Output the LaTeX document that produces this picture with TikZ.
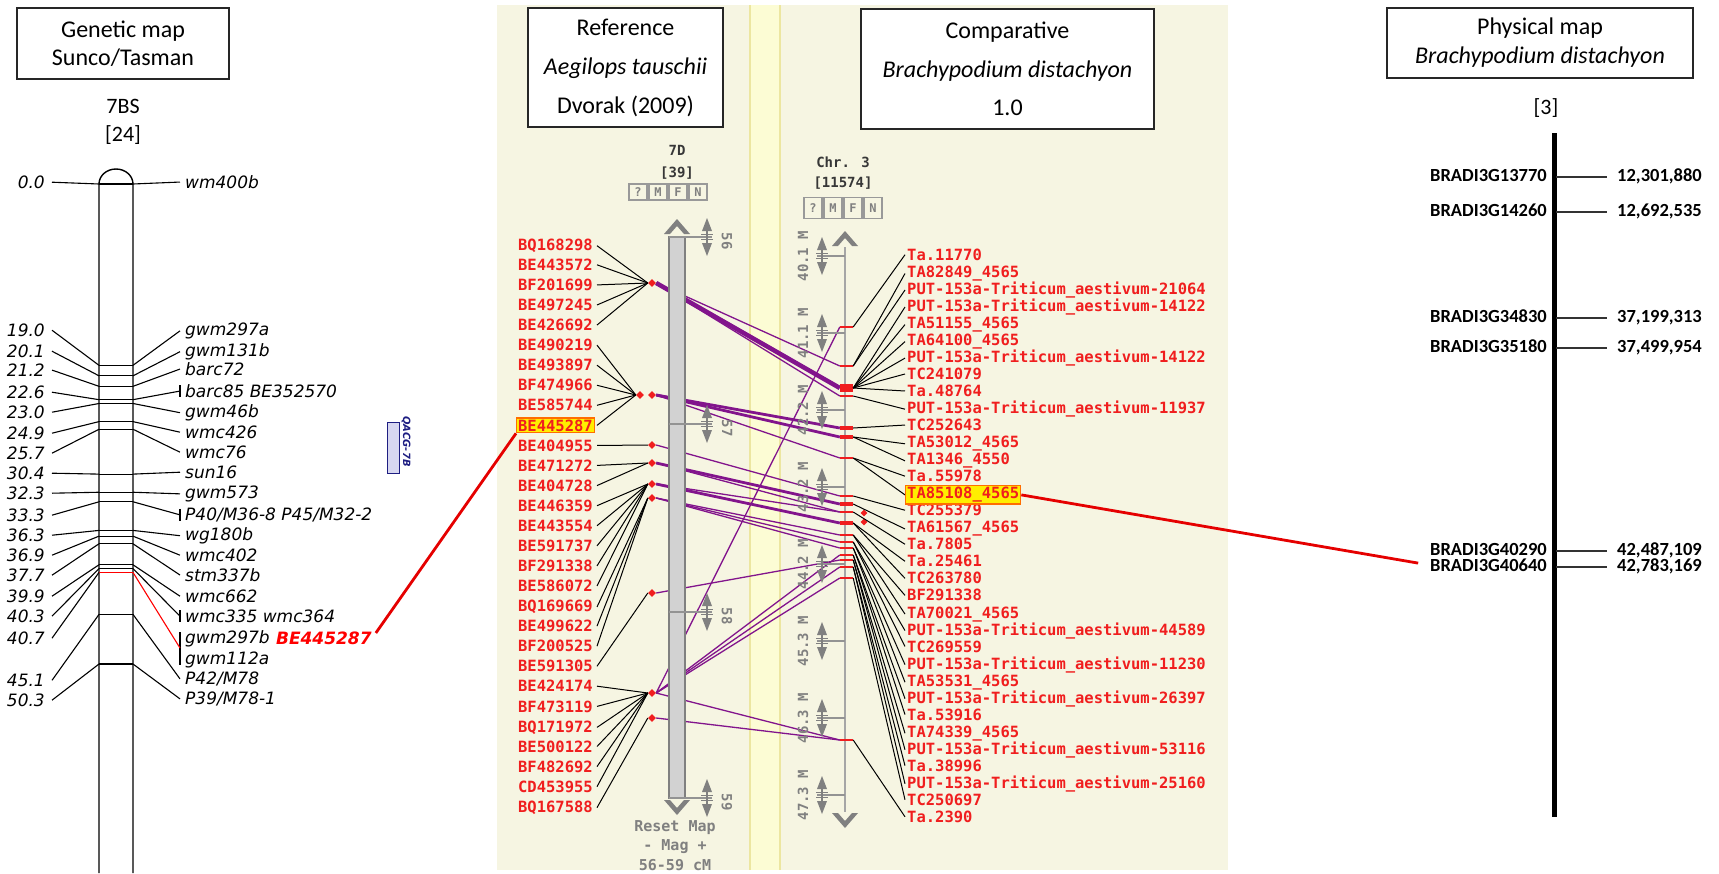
\documentclass[tikz,border=0pt]{standalone}
\usepackage{fontspec}
\setmainfont{Carlito}
\newfontfamily\mapfont{DejaVu Sans}
\newfontfamily\cmapfont{DejaVu Sans Mono}
\usepackage{xcolor}
\usetikzlibrary{positioning, shapes.geometric, calc}

\definecolor{cmapbg}{RGB}{246,245,226}
\definecolor{cmapband}{RGB}{252,252,212}
\definecolor{cmapbandedge}{RGB}{236,230,160}
\definecolor{cmapred}{RGB}{240,30,30}
\definecolor{cmapgray}{RGB}{128,128,128}
\definecolor{cmapdark}{RGB}{55,55,55}
\definecolor{cmapbar}{RGB}{210,210,210}
\definecolor{cmappurple}{RGB}{130,20,140}
\definecolor{hiyellow}{RGB}{255,238,0}
\definecolor{hiorange}{RGB}{255,110,0}
\definecolor{qtlblue}{RGB}{30,30,130}
\definecolor{qtlfill}{RGB}{215,215,240}

\pgfdeclarelayer{panel}
\pgfdeclarelayer{links}
\pgfsetlayers{panel,links,main}

\begin{document}
\begin{tikzpicture}[
    x=1pt, y=-1pt,
    header box/.style={draw=black!85, line width=1.2pt, fill=white, align=center, inner sep=0pt},
    gline/.style={black, line width=1.1pt},
    gmap label/.style={font=\mapfont\itshape\fontsize{17}{17}\selectfont, inner sep=0pt, yshift=-2pt},
    gmap red/.style={font=\mapfont\bfseries\itshape\fontsize{17}{17}\selectfont, text=red, inner sep=0pt},
    cmap label/.style={font=\cmapfont\bfseries\fontsize{15.5}{15.5}\selectfont, text=cmapred, inner ysep=1pt, yshift=-3pt},
    cmap gray/.style={font=\cmapfont\bfseries\fontsize{14}{14}\selectfont, text=cmapgray, inner sep=0pt},
    cmap title/.style={font=\cmapfont\bfseries\fontsize{14}{14}\selectfont, text=cmapdark, inner sep=0pt},
    button/.style={draw=cmapgray!80, line width=1.1pt, minimum width=18pt, inner sep=0pt,
        font=\cmapfont\bfseries\fontsize{12}{12}\selectfont, text=cmapgray},
    leader/.style={black, line width=1pt},
    feat/.style={diamond, fill=cmapred, inner sep=0pt, minimum size=8pt},
    cfeat/.style={rectangle, fill=cmapred, inner sep=0pt, minimum width=13pt},
    hilite/.style={fill=hiyellow, draw=hiorange, line width=1.3pt, inner sep=1.5pt},
    redlink/.style={red!90!black, line width=2.8pt},
    tickline/.style={cmapgray!85, line width=1.4pt},
    phys label/.style={font=\bfseries\fontsize{18.5}{18.5}\selectfont, inner sep=0pt, yshift=-2pt}
]

\tikzset{
    updown/.pic={
        \fill[cmapgray] (-5,-6) -- (5,-6) -- (0,-19) -- cycle;
        \fill[cmapgray] (-5,6) -- (5,6) -- (0,19) -- cycle;
        \draw[cmapgray, line width=1.1pt] (-6,-2.5) -- (6,-2.5) (-6,2.5) -- (6,2.5) (0,-6) -- (0,6);
    },
    chevup/.pic={
        \fill[cmapgray] (-13,8) -- (0,-7) -- (13,8) -- (7,8) -- (0,0) -- (-7,8) -- cycle;
    },
    chevdown/.pic={
        \fill[cmapgray] (-13,-8) -- (0,7) -- (13,-8) -- (7,-8) -- (0,0) -- (-7,-8) -- cycle;
    }
}

\useasboundingbox (0,0) rectangle (1719,873);

% --- 1. Genetic map Sunco/Tasman ---
\node[header box, minimum width=212pt, minimum height=71pt, font=\fontsize{24}{28}\selectfont]
    (gmapHead) at (123,43.5) {Genetic map\\Sunco/Tasman};
\node[font=\fontsize{22}{22}\selectfont] (chrName) at (123,106) {7BS};
\node[font=\fontsize{22}{22}\selectfont] (chrCount) at (123,135) {[24]};

\draw[gline, line width=1.4pt] (99,873) -- (99,184)
    arc[start angle=180, end angle=0, x radius=17pt, y radius=15pt] -- (133,873);

\foreach \cm in {0.0,19.0,20.1,21.2,22.6,23.0,24.9,25.7,30.4,32.3,33.3,36.3,36.9,37.7,39.9,40.3,45.1,50.3}{
    \draw[gline] (99,{184+9.543*\cm}) -- (133,{184+9.543*\cm});
}
\draw[red, line width=1.1pt] (99,572.4) -- (133,572.4);

% positions (left side)
\foreach \cm/\ly [count=\i] in {0.0/184, 19.0/332, 20.1/353, 21.2/372, 22.6/394, 23.0/414,
    24.9/435, 25.7/455, 30.4/475, 32.3/495, 33.3/517, 36.3/537, 36.9/557, 37.7/577,
    39.9/598, 40.3/618, 40.7/640, 45.1/682, 50.3/702}{
    \node[gmap label, anchor=mid east, inner xsep=7pt] (pos\i) at (52,\ly) {\cm};
    \coordinate (rl\i) at (99,{184+9.543*\cm});
    \draw[gline] (pos\i.east) -- (rl\i);
}

% loci (right side)
\foreach \cm/\ry/\txt [count=\i] in {0.0/184/wm400b, 19.0/331/gwm297a, 20.1/352/gwm131b,
    21.2/371/barc72, 22.6/393/barc85 BE352570, 23.0/413/gwm46b, 24.9/434/wmc426,
    25.7/454/wmc76, 30.4/474/sun16, 32.3/494/gwm573, 33.3/516/{P40/M36-8 P45/M32-2},
    36.3/536/wg180b, 36.9/557/wmc402, 37.7/577/stm337b, 39.9/598/wmc662,
    40.3/618/wmc335 wmc364, 45.1/680/{P42/M78}, 50.3/700/{P39/M78-1}}{
    \coordinate (rr\i) at (133,{184+9.543*\cm});
    \node[gmap label, anchor=mid west, inner xsep=5pt] (loc\i) at (180,\ry) {\txt};
    \draw[gline] (rr\i) -- (loc\i.west);
}
\foreach \i in {5,11,16}{
    \draw[gline] ($(loc\i.west)+(0,-6)$) -- ($(loc\i.west)+(0,6)$);
}

% shared locus 40.7
\node[gmap label, anchor=mid west] (gwmB) at (185,639) {gwm297b};
\node[gmap red, anchor=west, right=6pt of gwmB] (beL) {BE445287};
\node[gmap label, anchor=mid west] (gwmA) at (185,660) {gwm112a};
\coordinate (rrRed) at (133,572.4);
\coordinate (brk) at (180,648);
\draw[gline] (180,632) -- (180,665);
\draw[red, line width=1.1pt] (rrRed) -- (brk);

% QTL
\node[draw=qtlblue, fill=qtlfill, line width=1pt, minimum width=12pt, minimum height=51pt,
    inner sep=0pt] (qtl) at (393,447.5) {};
\node[font=\mapfont\bfseries\itshape\fontsize{10}{10}\selectfont, text=qtlblue, rotate=-90,
    anchor=south, inner sep=1pt] (qtlName) at ($(qtl.east)+(1,-6)$) {QACG-7B};

% --- 2. CMap panel ---
\begin{pgfonlayer}{panel}
    \fill[cmapbg] (497,5) rectangle (1228,870);
    \fill[cmapband] (750,5) rectangle (780,870);
    \draw[cmapbandedge, line width=1.2pt] (750,5) -- (750,870) (780,5) -- (780,870);
\end{pgfonlayer}

\node[header box, minimum width=195pt, minimum height=119pt, font=\fontsize{24}{39}\selectfont]
    (refHead) at (625.5,67.5) {Reference\\\textit{Aegilops tauschii}\\Dvorak (2009)};
\node[header box, minimum width=293pt, minimum height=120pt, font=\fontsize{24}{38.5}\selectfont]
    (cmpHead) at (1007.5,69) {Comparative\\\textit{Brachypodium distachyon}\\1.0};

% 7D map
\node[cmap title] (refChr) at (677,150) {7D};
\node[cmap title] (refCount) at (677,173) {[39]};
\foreach \b [count=\k] in {?,M,F,N}{
    \node[button, minimum height=16pt] (btnA\k) at ({618+20*\k},192) {\b};
}
\pic at (677,226) {chevup};
\pic at (677,808) {chevdown};
\draw[fill=cmapbar, draw=cmapgray, line width=2.5pt] (669,237) rectangle (685,798);
\foreach \y/\v in {237/56, 424/57, 612/58, 798/59}{
    \draw[tickline] (669,\y) -- (712,\y);
    \pic at (707,\y) {updown};
    \node[cmap gray, rotate=-90] (cM\v) at (727,{\y+4}) {\v};
}
\node[cmap gray, font=\cmapfont\bfseries\fontsize{15}{15}\selectfont] (reset) at (675,828) {Reset Map};
\node[cmap gray, font=\cmapfont\bfseries\fontsize{15}{15}\selectfont] (mag) at (675,847) {- Mag +};
\node[cmap gray, font=\cmapfont\bfseries\fontsize{15}{15}\selectfont] (range) at (675,865) {56-59 cM};

\foreach \y [count=\k] in {283,395,445,463,484,498,593,693,718}{
    \node[feat] (d\k) at (652,\y) {};
}
\node[feat] (d2b) at (640,395) {};

% Chr. 3 map
\node[cmap title] (cmpChr) at (843,162) {Chr. 3};
\node[cmap title] (cmpCount) at (843,183) {[11574]};
\foreach \b [count=\k] in {?,M,F,N}{
    \node[button, minimum height=21pt] (btnB\k) at ({793+20*\k},208) {\b};
}
\pic at (845,238) {chevup};
\pic at (845,821) {chevdown};
\draw[cmapgray!70, line width=1.5pt] (845,247) -- (845,812);
\foreach \v [count=\k from 0] in {40.1,41.1,42.2,43.2,44.2,45.3,46.3,47.3}{
    \draw[tickline] (817,{256+77*\k}) -- (845,{256+77*\k});
    \pic at (822,{256+77*\k}) {updown};
    \node[cmap gray, rotate=90] (Mb\k) at (803,{256+77*\k}) {\v\ M};
}

\foreach \y/\h [count=\k] in {327/2.5, 366/2.5, 388/8, 396/2.5, 428/3.5, 437/3.5, 458/2.5,
    496/2.5, 504/3.5, 512/2.5, 523/3.5, 535/2.5, 542/2.5, 548/2.5, 555/2.5, 560/2.5,
    567/2.5, 578/2.5, 740/2.5}{
    \node[cfeat, minimum height=\h] (c\k) at (846.5,\y) {};
}
\node[feat, minimum size=7pt] (dd1) at (864,513) {};
\node[feat, minimum size=7pt] (dd2) at (864,522) {};

% correspondences 7D -> Chr. 3
\begin{pgfonlayer}{links}
    \foreach \d/\c/\w in {1/2/1.3, 1/3/4.5, 1/4/1.3, 2/5/2.8, 2/6/2.8, 2/7/1.3, 3/8/1.3,
        4/9/2.8, 4/10/1.3, 5/11/2.8, 5/10/1.3, 6/12/1.3, 6/13/1.3, 6/14/1.3, 7/16/1.3,
        8/1/1.3, 8/15/1.3, 8/17/1.3, 8/18/1.3, 8/19/1.3, 9/19/1.3}{
        \draw[cmappurple, line width=\w] (d\d.east) -- (c\c.west);
    }
\end{pgfonlayer}

% 7D features
\foreach \name/\k [count=\i] in {BQ168298/1, BE443572/1, BF201699/1, BE497245/1, BE426692/1,
    BE490219/2b, BE493897/2b, BF474966/2b, BE585744/2b, BE445287/2b, BE404955/3,
    BE471272/4, BE404728/4, BE446359/5, BE443554/5, BE591737/5, BF291338/5, BE586072/5,
    BQ169669/6, BE499622/6, BF200525/6, BE591305/7, BE424174/8, BF473119/8, BQ171972/8,
    BE500122/8, BF482692/8, CD453955/8, BQ167588/9}{
    \pgfmathsetmacro\ly{245+20.07*(\i-1)}
    \node[cmap label, anchor=mid east, inner xsep=4pt] (r\i) at (597,\ly) {\name};
    \draw[leader] (r\i.east) -- (d\k.west);
}

% Chr. 3 features
\foreach \name/\k [count=\i] in {Ta.11770/1, TA82849\_4565/2, PUT-153a-Triticum\_aestivum-21064/2,
    PUT-153a-Triticum\_aestivum-14122/3, TA51155\_4565/3, TA64100\_4565/3,
    PUT-153a-Triticum\_aestivum-14122/3, TC241079/3, Ta.48764/3,
    PUT-153a-Triticum\_aestivum-11937/4, TC252643/5, TA53012\_4565/6, TA1346\_4550/6,
    Ta.55978/7, TA85108\_4565/7, TC255379/8, TA61567\_4565/9, Ta.7805/10, Ta.25461/11,
    TC263780/11, BF291338/12, TA70021\_4565/12, PUT-153a-Triticum\_aestivum-44589/13,
    TC269559/13, PUT-153a-Triticum\_aestivum-11230/14, TA53531\_4565/14,
    PUT-153a-Triticum\_aestivum-26397/15, Ta.53916/15, TA74339\_4565/16,
    PUT-153a-Triticum\_aestivum-53116/16, Ta.38996/17, PUT-153a-Triticum\_aestivum-25160/17,
    TC250697/18, Ta.2390/19}{
    \pgfmathsetmacro\ly{255+17.03*(\i-1)}
    \node[cmap label, anchor=mid west, inner xsep=2pt] (t\i) at (905,\ly) {\name};
    \draw[leader] (c\k.east) -- (t\i.west);
}

\node[cmap label, hilite] (beC) at ($(r10.center)+(0,-3)$) {BE445287};
\node[cmap label, hilite] (taC) at ($(t15.center)+(0,-3)$) {TA85108\_4565};

% --- 3. Physical map ---
\node[header box, minimum width=306pt, minimum height=70pt, font=\fontsize{24}{29}\selectfont]
    (physHead) at (1540,43) {Physical map\\\textit{Brachypodium distachyon}};
\node[font=\fontsize{22}{22}\selectfont] (physChr) at (1546,108) {[3]};
\draw[black, line width=5pt] (1554,133) -- (1554,817);
\foreach \y/\name/\pos [count=\i] in {177/BRADI3G13770/{12,301,880}, 212/BRADI3G14260/{12,692,535},
    318/BRADI3G34830/{37,199,313}, 348/BRADI3G35180/{37,499,954},
    551/BRADI3G40290/{42,487,109}, 567/BRADI3G40640/{42,783,169}}{
    \node[phys label, anchor=mid east] (br\i) at (1547,\y) {\name};
    \node[phys label, anchor=mid west] (bp\i) at (1617,\y) {\pos};
    \draw[black!80, line width=1.2pt] (1556,\y) -- (1607,\y);
}

% --- 4. Links between panels ---
\draw[redlink, shorten <=7pt] (beL.east) -- (beC.south west);
\draw[redlink, shorten >=12pt] (taC.east) -- (br6.west);

\end{tikzpicture}
\end{document}
